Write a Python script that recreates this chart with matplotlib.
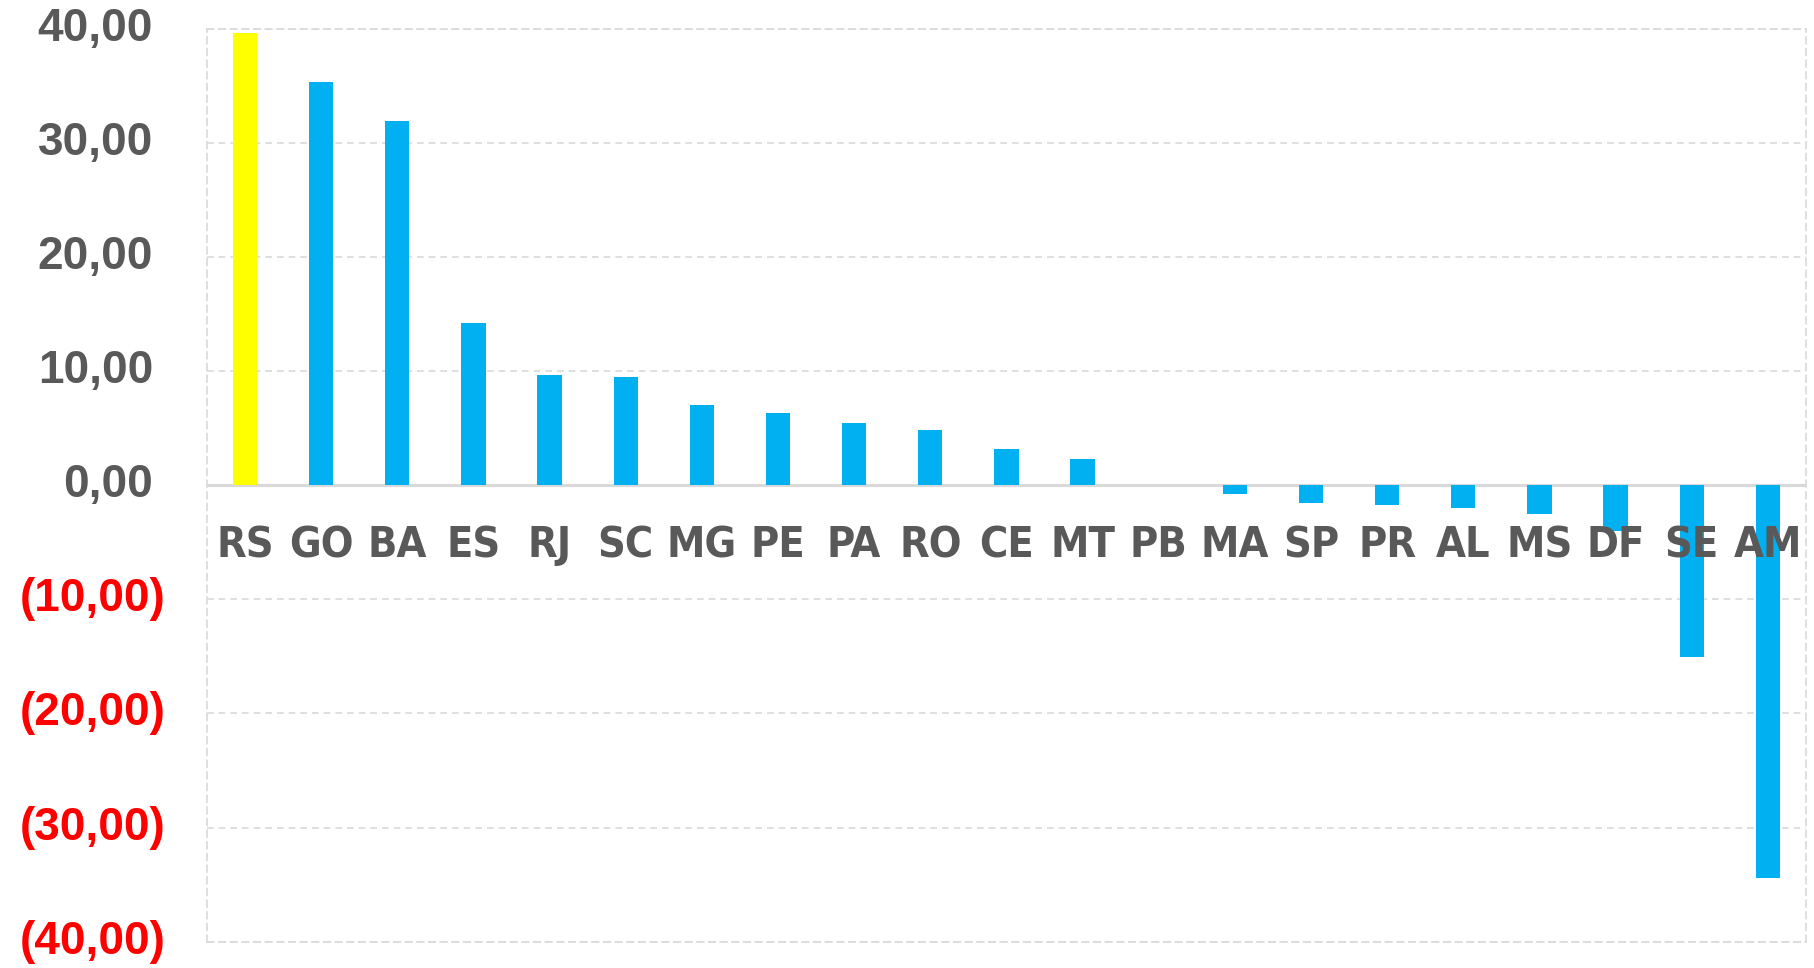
import matplotlib
matplotlib.use("Agg")
import matplotlib.pyplot as plt
import numpy as np

estados = ["RS", "GO", "BA", "ES", "RJ", "SC", "MG", "PE", "PA", "RO", "CE",
           "MT", "PB", "MA", "SP", "PR", "AL", "MS", "DF", "SE", "AM"]
valores = [39.65, 35.3, 31.95, 14.23, 9.66, 9.5, 7.03, 6.32, 5.47, 4.86, 3.18,
           2.3, 0.0, -0.76, -1.59, -1.71, -2.0, -2.57, -3.99, -15.1, -34.4]
destaque = "RS"
yticks = [40, 30, 20, 10, 0, -10, -20, -30, -40]

azul = "#00B0F0"
amarelo = "#FFFF00"
cinza = "#595959"
grade = "#D9D9D9"

fig = plt.figure(figsize=(18.15, 9.68), dpi=100)
ax = fig.add_axes([0.114, 0.0272, 0.881, 0.9432])

x = np.arange(len(estados))
cores = [amarelo if e == destaque else azul for e in estados]
ax.bar(x, valores, width=0.32, color=cores, zorder=2)

ax.set_xlim(-0.5, len(estados) - 0.5)
ax.set_ylim(-40, 40)
ax.set_yticks(yticks)
ax.set_yticklabels([])
ax.set_xticks([])
ax.tick_params(left=False, bottom=False)
ax.grid(axis="y", color=grade, linestyle=(0, (4, 3)), linewidth=1.2, zorder=0)
for s in ax.spines.values():
    s.set_color(grade)
    s.set_linestyle((0, (4, 3)))
    s.set_linewidth(1.2)
ax.axhline(0, color=grade, linewidth=2.2, zorder=1)

# rotulos do eixo y no formato contabil
for v in yticks:
    if v < 0:
        txt = "(%d,00)" % abs(v)
        cor = "#FF0000"
        off = -41
    else:
        txt = "%d,00" % v
        cor = cinza
        off = -54
    ax.annotate(txt, xy=(0, v), xycoords=("axes fraction", "data"),
                xytext=(off, 0), textcoords="offset pixels",
                ha="right", va="center", fontsize=33, fontweight="bold",
                color=cor, family=["Liberation Sans", "DejaVu Sans"])

# rotulos das categorias logo abaixo do eixo zero
for i, e in enumerate(estados):
    ax.annotate(e, xy=(i, 0), xytext=(0, -72), textcoords="offset pixels",
                ha="center", va="baseline", fontsize=31, fontweight="bold",
                fontstretch="condensed", color=cinza, zorder=5,
                family=["Liberation Sans Narrow", "DejaVu Sans"])

fig.savefig("out.png", dpi=100, facecolor="white")
